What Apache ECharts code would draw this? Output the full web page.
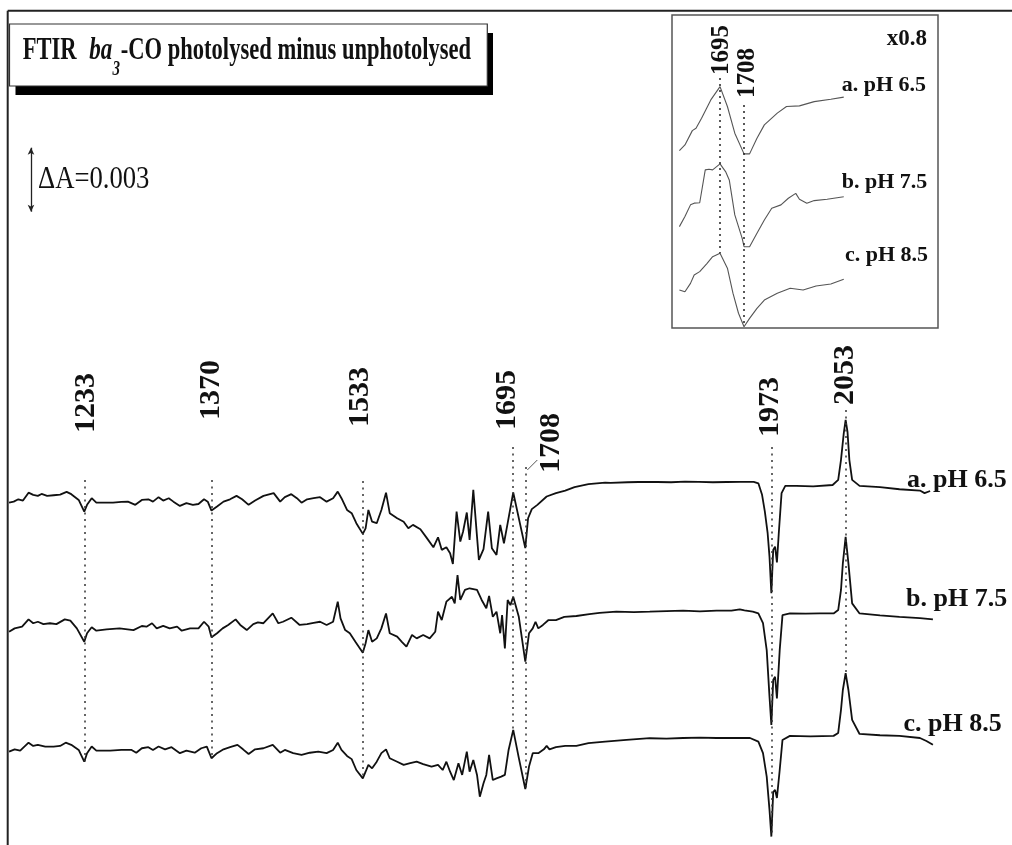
<!DOCTYPE html>
<html>
<head>
<meta charset="utf-8">
<script src="https://cdn.jsdelivr.net/npm/echarts/dist/echarts.min.js"></script>
<style>
  html, body { margin: 0; padding: 0; background: #fff; }
  #chart { width: 1012px; height: 845px; }
</style>
</head>
<body>
<div id="chart"></div>
<script>
// FTIR difference spectra: [wavenumber (cm-1), ΔA in units of 0.001]
const specA = [[1152,-0.60],[1157,-0.55],[1162,-0.44],[1167,-0.50],[1173,-0.13],[1178,-0.23],[1183,-0.28],[1187,-0.19],[1193,-0.28],[1200,-0.25],[1207,-0.22],[1214,-0.09],[1219,-0.20],[1227,-0.47],[1233,-1.02],[1236,-0.70],[1241,-0.39],[1246,-0.60],[1254,-0.60],[1264,-0.60],[1273,-0.56],[1280,-0.55],[1288,-0.70],[1295,-0.47],[1302,-0.44],[1307,-0.55],[1313,-0.34],[1318,-0.50],[1324,-0.39],[1329,-0.55],[1336,-0.75],[1343,-0.62],[1350,-0.70],[1356,-0.66],[1362,-0.44],[1366,-0.55],[1370,-0.97],[1376,-0.78],[1383,-0.55],[1390,-0.44],[1397,-0.28],[1403,-0.44],[1410,-0.70],[1417,-0.50],[1426,-0.28],[1437,-0.15],[1444,-0.55],[1449,-0.34],[1456,-0.20],[1462,-0.39],[1467,-0.60],[1473,-0.44],[1480,-0.39],[1487,-0.34],[1494,-0.55],[1501,-0.39],[1506,-0.08],[1510,-0.39],[1516,-0.94],[1521,-1.09],[1526,-1.56],[1533,-2.06],[1536,-1.80],[1539,-0.94],[1543,-1.49],[1548,-1.56],[1553,-0.94],[1558,-0.13],[1562,-1.09],[1570,-1.33],[1577,-1.49],[1582,-1.80],[1587,-1.64],[1595,-1.84],[1602,-2.26],[1609,-2.69],[1614,-2.22],[1618,-2.81],[1623,-2.69],[1627,-2.97],[1630,-3.47],[1634,-1.02],[1638,-2.42],[1641,-1.95],[1645,-1.06],[1648,-2.34],[1652,0.00],[1656,-2.19],[1658,-3.28],[1663,-2.78],[1668,-1.02],[1672,-2.73],[1677,-3.05],[1681,-1.64],[1685,-2.50],[1689,-1.56],[1695,-0.12],[1708,-2.73],[1711,-1.33],[1715,-0.90],[1721,-0.70],[1731,-0.31],[1741,-0.15],[1751,-0.03],[1761,0.13],[1776,0.27],[1794,0.34],[1800,0.33],[1818,0.36],[1830,0.37],[1850,0.37],[1865,0.36],[1880,0.39],[1895,0.38],[1910,0.36],[1925,0.37],[1940,0.38],[1954,0.38],[1959,0.31],[1963,-0.23],[1966,-1.02],[1969,-2.03],[1971,-3.13],[1973,-4.84],[1975,-2.81],[1977,-2.66],[1979,-3.40],[1981,-2.03],[1984,-0.15],[1988,0.19],[2000,0.19],[2018,0.17],[2039,0.23],[2045,0.47],[2048,1.41],[2051,2.66],[2053,3.28],[2055,2.73],[2057,1.41],[2060,0.47],[2068,0.19],[2090,0.13],[2111,0.03],[2133,-0.03],[2138,-0.15],[2144,-0.05]];

const specB = [[1152,-0.55],[1158,-0.39],[1166,-0.31],[1173,0.03],[1178,-0.15],[1183,-0.08],[1189,-0.19],[1196,-0.15],[1203,-0.19],[1212,0.03],[1218,-0.03],[1225,-0.39],[1233,-1.02],[1236,-0.62],[1241,-0.34],[1246,-0.50],[1257,-0.44],[1271,-0.39],[1286,-0.47],[1295,-0.28],[1300,-0.31],[1306,-0.15],[1311,-0.39],[1318,-0.27],[1325,-0.39],[1333,-0.31],[1338,-0.50],[1347,-0.39],[1356,-0.39],[1362,-0.08],[1367,-0.31],[1370,-0.81],[1376,-0.62],[1382,-0.39],[1388,-0.23],[1396,0.03],[1401,-0.23],[1408,-0.47],[1415,-0.19],[1420,-0.11],[1426,-0.15],[1436,0.31],[1442,-0.15],[1447,-0.08],[1456,0.11],[1465,-0.23],[1473,-0.19],[1480,-0.13],[1487,-0.08],[1494,-0.23],[1501,-0.08],[1506,0.86],[1509,0.08],[1514,-0.47],[1519,-0.62],[1525,-1.02],[1533,-1.53],[1536,-1.09],[1539,-0.47],[1543,-1.02],[1548,-0.86],[1553,-0.39],[1558,0.31],[1562,-0.62],[1570,-0.78],[1575,-1.02],[1580,-1.25],[1586,-0.70],[1591,-0.86],[1598,-0.70],[1605,-0.86],[1611,-0.55],[1614,0.39],[1618,0.00],[1623,0.86],[1629,1.09],[1632,0.78],[1635,2.11],[1638,0.94],[1643,1.41],[1648,1.49],[1656,1.41],[1661,0.94],[1666,0.55],[1669,1.13],[1673,0.15],[1677,0.39],[1681,-0.62],[1683,0.23],[1686,-1.33],[1689,0.94],[1692,0.70],[1695,1.09],[1701,0.15],[1708,-1.95],[1712,-0.62],[1716,-0.39],[1719,-0.08],[1722,-0.39],[1727,-0.23],[1733,0.00],[1741,0.00],[1750,0.15],[1763,0.19],[1777,0.28],[1788,0.34],[1806,0.39],[1825,0.37],[1842,0.39],[1860,0.42],[1878,0.44],[1896,0.41],[1914,0.44],[1930,0.44],[1939,0.50],[1944,0.45],[1953,0.39],[1959,0.31],[1964,-0.15],[1968,-1.41],[1971,-3.59],[1973,-4.92],[1975,-2.81],[1977,-2.66],[1979,-3.67],[1982,-1.41],[1985,0.23],[1993,0.31],[2010,0.30],[2025,0.31],[2040,0.31],[2045,0.47],[2048,1.41],[2050,2.66],[2053,3.90],[2056,2.66],[2060,0.78],[2068,0.31],[2090,0.22],[2111,0.15],[2133,0.09],[2147,0.03]];

const specC = [[1152,-0.55],[1158,-0.44],[1164,-0.50],[1173,-0.13],[1178,-0.28],[1183,-0.23],[1191,-0.31],[1200,-0.31],[1207,-0.28],[1213,-0.13],[1219,-0.23],[1227,-0.47],[1233,-1.02],[1236,-0.62],[1241,-0.31],[1246,-0.50],[1261,-0.50],[1273,-0.47],[1284,-0.47],[1289,-0.60],[1295,-0.39],[1302,-0.34],[1307,-0.47],[1313,-0.31],[1320,-0.44],[1327,-0.34],[1336,-0.62],[1343,-0.50],[1352,-0.60],[1359,-0.39],[1365,-0.31],[1370,-0.86],[1376,-0.62],[1383,-0.44],[1390,-0.34],[1398,-0.23],[1404,-0.44],[1410,-0.66],[1417,-0.44],[1426,-0.39],[1436,-0.23],[1444,-0.60],[1449,-0.47],[1458,-0.62],[1467,-0.70],[1476,-0.60],[1485,-0.55],[1494,-0.62],[1501,-0.47],[1506,-0.13],[1510,-0.47],[1516,-0.75],[1521,-0.90],[1526,-1.41],[1533,-1.80],[1536,-1.49],[1539,-1.17],[1543,-1.33],[1548,-1.02],[1553,-0.62],[1558,-0.44],[1562,-0.86],[1570,-1.02],[1577,-1.17],[1584,-1.09],[1591,-1.02],[1598,-1.13],[1607,-1.25],[1614,-1.17],[1619,-1.41],[1623,-1.02],[1627,-1.49],[1631,-1.88],[1636,-1.09],[1640,-1.64],[1645,-0.55],[1648,-1.49],[1652,-0.94],[1656,-1.64],[1659,-2.66],[1663,-2.03],[1666,-1.64],[1669,-0.70],[1673,-1.88],[1677,-1.80],[1682,-1.72],[1686,-1.64],[1690,-0.47],[1695,0.47],[1701,-0.84],[1708,-2.30],[1712,-1.25],[1716,-0.62],[1722,-0.62],[1728,-0.44],[1731,-0.28],[1734,-0.44],[1741,-0.34],[1751,-0.28],[1763,-0.28],[1776,-0.15],[1794,-0.08],[1817,0.00],[1842,0.08],[1860,0.06],[1878,0.09],[1896,0.11],[1914,0.09],[1932,0.10],[1950,0.09],[1959,-0.08],[1964,-0.62],[1968,-1.72],[1971,-3.28],[1973,-4.53],[1975,-2.44],[1977,-2.34],[1979,-2.72],[1982,-1.41],[1985,0.00],[1993,0.19],[2015,0.17],[2040,0.19],[2045,0.33],[2048,1.41],[2050,2.34],[2053,3.13],[2056,2.34],[2060,0.94],[2068,0.28],[2090,0.22],[2111,0.19],[2133,0.09],[2140,-0.05],[2147,-0.23]];

// 1695/1708 region, expanded
const insetA = [[1673,-2.38],[1676,-2.11],[1680,-1.44],[1682,-1.33],[1685,-0.86],[1690,0.00],[1695,0.62],[1699,-0.31],[1703,-1.56],[1708,-2.53],[1711,-2.53],[1715,-1.80],[1719,-1.17],[1726,-0.62],[1731,-0.31],[1738,-0.28],[1746,-0.08],[1755,0.03],[1762,0.13]];
const insetB = [[1673,-1.25],[1676,-0.78],[1679,-0.23],[1681,-0.15],[1684,-0.13],[1687,1.41],[1689,1.44],[1691,1.41],[1695,1.69],[1698,1.33],[1700,0.94],[1703,-0.70],[1707,-1.80],[1708,-2.19],[1711,-2.19],[1715,-1.56],[1719,-0.94],[1723,-0.39],[1728,-0.23],[1732,0.08],[1736,0.31],[1738,0.03],[1742,-0.15],[1746,-0.03],[1753,0.03],[1762,0.15]];
const insetC = [[1673,0.00],[1676,-0.08],[1679,0.31],[1681,0.70],[1684,0.86],[1688,1.25],[1691,1.56],[1695,1.72],[1699,1.02],[1702,-0.15],[1705,-1.09],[1708,-1.72],[1711,-1.33],[1715,-0.86],[1719,-0.47],[1726,-0.15],[1733,0.08],[1740,0.00],[1747,0.19],[1755,0.28],[1762,0.50]];

const traceNames = ['a. pH 6.5', 'b. pH 7.5', 'c. pH 8.5'];
const peakBands = [1233, 1370, 1533, 1695, 1708, 1973, 2053];
const insetBands = [1695, 1708];
const insetScale = 'x0.8';
const scaleBarSpan = 3;          // 0.003 ΔA in the 0.001 units used above
const stackShift = [-22.73, -28.83, -34.45];
const insetShift = [-3.98, -8.67, -12.89];

// ---------- layout (pixels) ----------
const SERIF = '"Liberation Serif","Times New Roman",serif';
const guideTopPx = {1233: 480, 1370: 480, 1533: 481, 1695: 447, 1708: 467, 1973: 447, 2053: 410};
const peakLabelPx = {1233: [1.7, 433], 1370: [-0.5, 420], 1533: [-2.5, 427], 1695: [-6, 430], 1708: [26, 473], 1973: [-1, 437], 2053: [0, 405]};
const insetGuideTopPx = {1695: 78, 1708: 105};
const insetLabelPx = {1695: [1.7, 75], 1708: [3.5, 98]};
const traceLabelPx = [[907, 489.5], [906, 608], [903.5, 733]];
const insetTraceLabelPx = [[841.7, 93.3], [841.7, 190], [845, 263.3]];

const chart = echarts.init(document.getElementById('chart'), null, {renderer: 'canvas'});

const lineOf = (d, shift, xi, color, width, id) => ({
  id, type: 'line', xAxisIndex: xi, yAxisIndex: xi,
  data: d.map(p => [p[0], p[1] + shift]),
  symbol: 'none', silent: true, animation: false, clip: false,
  lineStyle: {color, width}
});

const series = [
  ...[specA, specB, specC].map((d, i) => lineOf(d, stackShift[i], 0, '#111', 1.8, 'main' + i)),
  ...[insetA, insetB, insetC].map((d, i) => lineOf(d, insetShift[i], 1, '#555', 1.1, 'inset' + i))
];

chart.setOption({
  backgroundColor: '#fff',
  animation: false,
  grid: [
    {left: 7.2, top: 5, width: 928.5, height: 840},
    {left: 679.4, top: 15, width: 166.2, height: 320}
  ],
  xAxis: [
    {type: 'value', gridIndex: 0, min: 1150, max: 2150, show: false},
    {type: 'value', gridIndex: 1, min: 1673, max: 1763, show: false}
  ],
  yAxis: [
    {type: 'value', gridIndex: 0, min: -39.375, max: 0, show: false},
    {type: 'value', gridIndex: 1, min: -15, max: 0, show: false}
  ],
  series
});

// ---------- annotations placed through the axes ----------
const xPx = (w, i) => chart.convertToPixel({xAxisIndex: i}, w);
const yVal = (px, i) => chart.convertFromPixel({yAxisIndex: i}, px);
const xVal = (px, i) => chart.convertFromPixel({xAxisIndex: i}, px);
const valueAt = (d, w) => d.reduce((b, p) => Math.abs(p[0] - w) < Math.abs(b[0] - w) ? p : b)[1];

const dotted = {type: [2, 4.5], color: '#333', width: 1.5};

const mainGuides = peakBands.map(w => [
  {coord: [w, yVal(guideTopPx[w], 0)]},
  {coord: [w, valueAt(specC, w) + stackShift[2]]}
]);
const insetGuides = insetBands.map(w => [
  {coord: [w, yVal(insetGuideTopPx[w], 1)]},
  {coord: [w, valueAt(insetC, w) + insetShift[2]]}
]);
const barX = xVal(31, 0);
const barBase = yVal(211.7, 0);

// text element; opts may carry element props (scaleX, rotation) and extra style
function txt(text, x, y, size, opts) {
  opts = opts || {};
  const style = Object.assign({
    text, fontFamily: SERIF, fontSize: size, fontWeight: 'bold', fill: '#111',
    align: 'left', verticalAlign: 'middle'
  }, opts.style || {});
  const el = {type: 'text', x, y, z: 100, silent: true, style};
  if (opts.scaleX != null) el.scaleX = opts.scaleX;
  if (opts.rotation != null) el.rotation = opts.rotation;
  return el;
}

const graphics = [
  // outer frame
  {type: 'line', z: 50, silent: true, shape: {x1: 7.7, y1: 10.7, x2: 1012, y2: 10.7}, style: {stroke: '#222', lineWidth: 2}},
  {type: 'line', z: 50, silent: true, shape: {x1: 7.7, y1: 10.7, x2: 7.7, y2: 845}, style: {stroke: '#222', lineWidth: 2}},
  // title box with drop shadow
  {type: 'rect', z: 60, silent: true, shape: {x: 15.5, y: 33, width: 477.5, height: 62}, style: {fill: '#000'}},
  {type: 'rect', z: 61, silent: true, shape: {x: 9.5, y: 24, width: 477.8, height: 62}, style: {fill: '#fff', stroke: '#333', lineWidth: 1.2}},
  txt('FTIR', 22.7, 50.8, 32, {scaleX: 0.705}),
  txt('ba', 89.3, 50.8, 32, {scaleX: 0.72, style: {fontStyle: 'italic'}}),
  txt('3', 112.5, 69.5, 20, {scaleX: 0.75, style: {fontStyle: 'italic'}}),
  txt('-CO photolysed minus unphotolysed', 120.7, 50.8, 32, {scaleX: 0.705}),
  // scale bar caption
  txt('ΔA=0.00' + scaleBarSpan, 38, 179.5, 31, {scaleX: 0.86, style: {fontWeight: 'normal'}}),
  // inset frame
  {type: 'rect', z: 40, silent: true, shape: {x: 672, y: 15, width: 266, height: 313}, style: {fill: 'transparent', stroke: '#555', lineWidth: 1.5}},
  txt(insetScale, 886.7, 39, 23),
  // leader from the 1708 guide to its label
  {type: 'line', z: 50, silent: true, shape: {x1: xPx(1708, 0) + 2, y1: 470, x2: xPx(1708, 0) + 12, y2: 460}, style: {stroke: '#555', lineWidth: 1}}
];

traceNames.forEach((n, i) => {
  graphics.push(txt(n, traceLabelPx[i][0], traceLabelPx[i][1] - 8.8, 26));
  graphics.push(txt(n, insetTraceLabelPx[i][0], insetTraceLabelPx[i][1] - 7.5, 22));
});
peakBands.forEach(w => {
  const [dx, bottom] = peakLabelPx[w];
  graphics.push(txt(String(w), xPx(w, 0) + dx, bottom, 30, {rotation: Math.PI / 2}));
});
insetBands.forEach(w => {
  const [dx, bottom] = insetLabelPx[w];
  graphics.push(txt(String(w), xPx(w, 1) + dx, bottom, 25, {rotation: Math.PI / 2}));
});

chart.setOption({
  series: [
    {id: 'main0', markLine: {silent: true, animation: false, symbol: ['arrow', 'arrow'], symbolSize: [5, 7],
      label: {show: false}, lineStyle: {type: 'solid', color: '#222', width: 1.3},
      data: [[{coord: [barX, barBase]}, {coord: [barX, barBase + scaleBarSpan]}]]}},
    {id: 'main2', markLine: {silent: true, animation: false, symbol: 'none', label: {show: false},
      lineStyle: dotted, data: mainGuides}},
    {id: 'inset2', markLine: {silent: true, animation: false, symbol: 'none', label: {show: false},
      lineStyle: {type: [2, 4], color: '#222', width: 1.5}, data: insetGuides}}
  ],
  graphic: graphics
});
</script>
</body>
</html>
